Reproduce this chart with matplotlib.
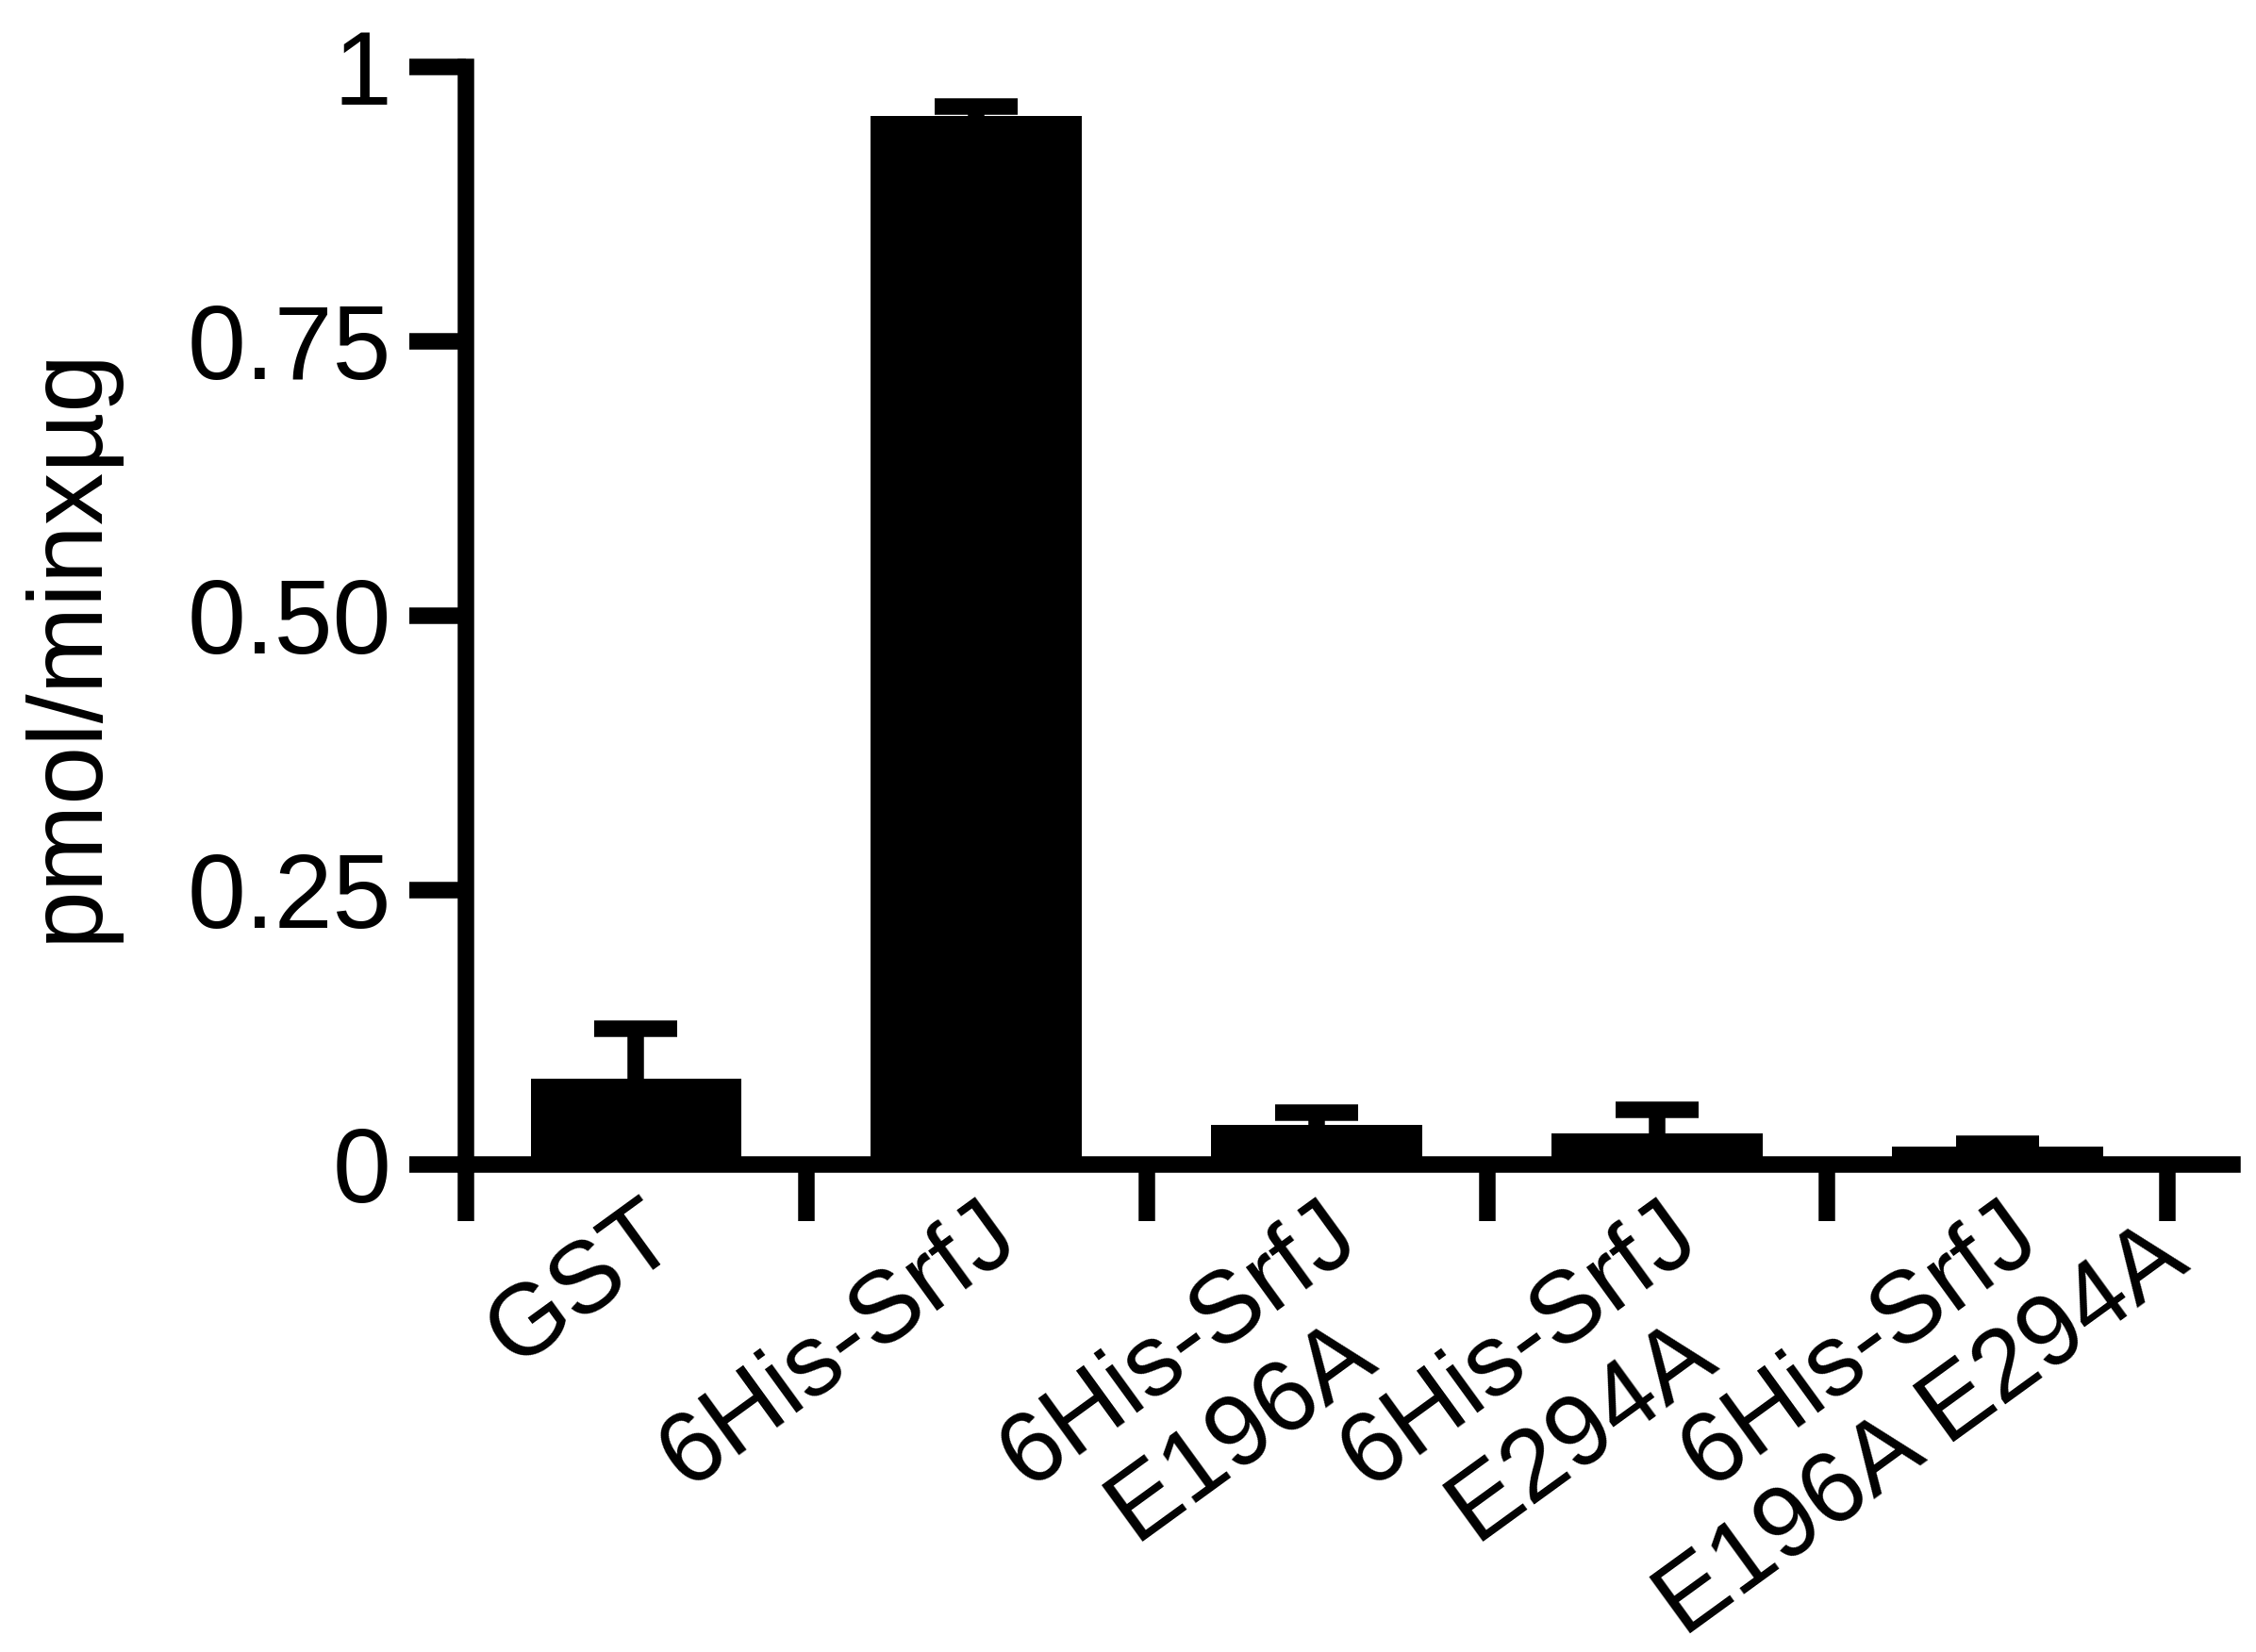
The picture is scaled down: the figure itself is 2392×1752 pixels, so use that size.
import numpy as np
import matplotlib.pyplot as plt

plt.rcParams["font.family"] = ["Liberation Sans", "DejaVu Sans"]

# activity per construct
groups = ["GST", "6His-SrfJ", "6His-SrfJ\nE196A", "6His-SrfJ\nE294A", "6His-SrfJ\nE196A E294A"]
activity = [0.078, 0.955, 0.036, 0.028, 0.016]
activity_err = [0.046, 0.009, 0.011, 0.022, 0.003]

y_ticks = [0, 0.25, 0.5, 0.75, 1]
y_ticklabels = ["0", "0.25", "0.50", "0.75", "1"]

LW = 12.6  # points, heavy GraphPad-style axes
TICK_LEN = 43
LABEL_SIZE = 77
ROT = 36

fig = plt.figure(figsize=(23.92, 17.52), dpi=100)
ax = fig.add_axes([0.2065, 0.2951, 0.783, 0.6644])

x = np.arange(len(groups))
vals = np.array(activity)
errs = np.array(activity_err)
ax.bar(x, vals, width=0.62, color="black", edgecolor="none", zorder=2)
# upper error only: whisker plus a single cap
ax.vlines(x, vals, vals + errs, color="black", linewidth=LW, zorder=2)
ax.plot(x, vals + errs, linestyle="none", marker="_", markersize=64,
        markeredgewidth=LW, color="black", zorder=2)

ax.set_xlim(-0.5, 4.69)
ax.set_ylim(0, 1)

for side in ["top", "right"]:
    ax.spines[side].set_visible(False)
for side in ["left", "bottom"]:
    ax.spines[side].set_linewidth(LW)
    ax.spines[side].set_capstyle("projecting")
    ax.spines[side].set_zorder(3)

ax.set_yticks(y_ticks)
ax.set_yticklabels(y_ticklabels)
ax.tick_params(axis="y", length=TICK_LEN, width=LW, labelsize=80, pad=14)

# boundary ticks between bars
ax.set_xticks(np.arange(len(groups) + 1) - 0.5)
ax.set_xticklabels([])
ax.tick_params(axis="x", which="major", length=TICK_LEN, width=LW)

# category labels: first line ends at the bar centre, next line centred under it
renderer = fig.canvas.get_renderer()
ang = np.deg2rad(ROT)
along = np.array([np.cos(ang), np.sin(ang)])
perp = np.array([np.sin(ang), -np.cos(ang)])
line_gap = 1.05 * LABEL_SIZE
end_off = np.array([35.0, -62.0])  # points from (bar centre, axis)

for xi, name in zip(x, groups):
    lines = name.split("\n")
    t1 = ax.annotate(lines[0], xy=(xi, 0), xycoords=("data", "axes fraction"),
                     xytext=end_off, textcoords="offset points",
                     rotation=ROT, rotation_mode="anchor", ha="right", va="baseline",
                     fontsize=LABEL_SIZE, annotation_clip=False)
    if len(lines) > 1:
        w1 = renderer.get_text_width_height_descent(
            lines[0], t1.get_fontproperties(), ismath=False)[0] * 72 / fig.dpi
        centre = end_off - along * w1 / 2 + perp * line_gap
        ax.annotate(lines[1], xy=(xi, 0), xycoords=("data", "axes fraction"),
                    xytext=centre, textcoords="offset points",
                    rotation=ROT, rotation_mode="anchor", ha="center", va="baseline",
                    fontsize=LABEL_SIZE, annotation_clip=False)

ax.set_ylabel("pmol/minxµg", fontsize=80)
ax.yaxis.set_label_coords(-0.197, 0.474)

fig.savefig("out.png", dpi=100)
